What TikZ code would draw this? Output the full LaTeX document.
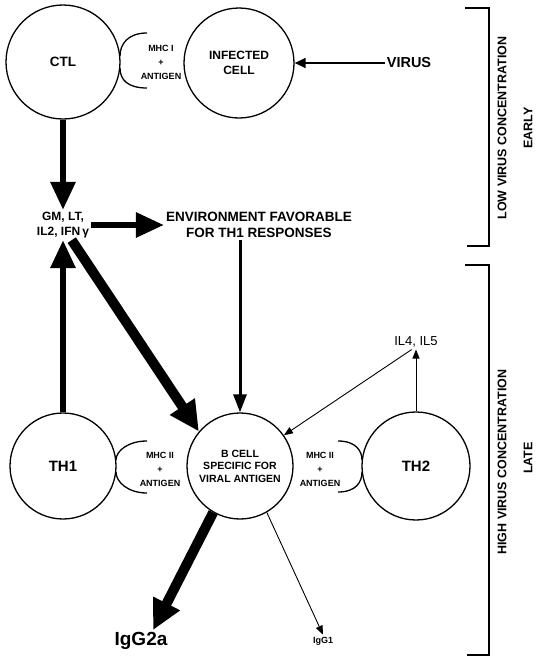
\documentclass[tikz,border=0pt]{standalone}
\usepackage{fontspec}
\setmainfont{Liberation Sans}
\usetikzlibrary{arrows.meta,calc}

\newcommand\celltxt{\bfseries\fontsize{13.5}{16}\selectfont}
\newcommand\mhctxt{\bfseries\fontsize{9}{14}\selectfont}
\newcommand\midtxt{\bfseries\fontsize{12}{15}\selectfont}
\newcommand\btxt{\bfseries\fontsize{10.5}{12.5}\selectfont}
\newcommand\sidetxt{\bfseries\fontsize{12.5}{14}\selectfont}

\begin{document}
\begin{tikzpicture}[x=1pt,y=-1pt,
    cell/.style={circle,draw,line width=1.3pt,inner sep=0pt,align=center},
    txt/.style={align=center,inner sep=2pt},
    cup/.style={line width=1.3pt},
    brk/.style={line width=1.6pt},
    thinarrow/.style={-{Triangle[length=9pt,width=7pt]},line width=0.9pt},
    midarrow/.style={-{Triangle[length=18pt,width=13pt]},line width=3pt},
    fatarrow/.style={-{Triangle[length=28pt,width=24pt]},line width=6pt},
    hugearrow/.style={-{Triangle[length=30pt,width=28pt]},line width=10pt}]
\useasboundingbox (0,0) rectangle (542,657);

% cells
\node[cell,minimum size=114pt,font=\celltxt] (ctl) at (63,62) {CTL};
\node[cell,minimum size=110pt,font=\celltxt\fontsize{12}{15}\selectfont] (inf) at (239,63) {INFECTED\\CELL};
\node[cell,minimum size=106pt,font=\celltxt\fontsize{15}{16}\selectfont] (th1) at (63,466) {TH1};
\node[cell,minimum size=106pt,font=\btxt] (bcell) at (240,466) {B CELL\\SPECIFIC FOR\\VIRAL ANTIGEN};
\node[cell,minimum size=108pt,font=\celltxt\fontsize{15}{16}\selectfont] (th2) at (416,466) {TH2};

% labels
\node[txt,font=\celltxt\fontsize{14.5}{16}\selectfont] (virus) at (409,63) {VIRUS};
\node[txt,font=\mhctxt] (mhci) at (161,62) {MHC I\\+\\ANTIGEN};
\node[txt,font=\mhctxt] (mhcl) at (160,469) {MHC II\\+\\ANTIGEN};
\node[txt,font=\mhctxt] (mhcr) at (320,469) {MHC II\\+\\ANTIGEN};
\node[txt,font=\midtxt] (gm) at (63,225) {GM, LT,\\IL2, IFN\,γ};
\node[txt,font=\midtxt\fontsize{13.5}{16}\selectfont] (env) at (259,225) {ENVIRONMENT FAVORABLE\\FOR TH1 RESPONSES};
\node[txt,font=\fontsize{13}{15}\selectfont] (il) at (416,342) {IL4, IL5};
\node[txt,font=\bfseries\fontsize{19}{21}\selectfont] (igga) at (141,641) {IgG2a};
\node[txt,font=\bfseries\fontsize{9}{11}\selectfont] (iggb) at (323,641) {IgG1};

% time scale
\node[rotate=90,font=\sidetxt] (low) at (502,128) {LOW VIRUS CONCENTRATION};
\node[rotate=90,font=\sidetxt] (early) at (528,128) {EARLY};
\node[rotate=90,font=\sidetxt] (high) at (502,462) {HIGH VIRUS CONCENTRATION};
\node[rotate=90,font=\sidetxt] (late) at (528,458) {LATE};
\draw[brk] (465,8) -- (489,8) -- (489,246) -- (467,246);
\draw[brk] (465,265) -- (489,265) -- (489,655) -- (467,655);

% receptor cups
\draw[cup] (147,33) .. controls (128,33) and (120,44) .. (120,56);
\draw[cup] (120,68) .. controls (120,80) and (128,88) .. (147,88);
\draw[cup] (147,441) .. controls (128,441) and (116,451) .. (116,460);
\draw[cup] (116,472) .. controls (116,482) and (128,493) .. (147,493);
\draw[cup] (338,441) .. controls (356,441) and (362,451) .. (362,460);
\draw[cup] (362,472) .. controls (362,482) and (356,492) .. (338,492);

% connectors
\draw[thinarrow,line width=1.4pt,-{Triangle[length=11pt,width=10pt]}] (virus.west) -- (inf.east);
\draw[fatarrow] (ctl) -- (gm);
\draw[fatarrow] (gm.east) -- (env.west);
\draw[fatarrow] (th1) -- (gm);
\draw[hugearrow] (gm.-60) -- (bcell.140);
\draw[midarrow] (env.south -| bcell) -- (bcell);
\draw[thinarrow] (th2) -- (il);
\draw[thinarrow] (il.240) -- (bcell.35);
\draw[hugearrow] (bcell.240) -- ($(igga.north)+(12,0)$);
\draw[thinarrow] (bcell.-60) -- (iggb.north);
\end{tikzpicture}
\end{document}
